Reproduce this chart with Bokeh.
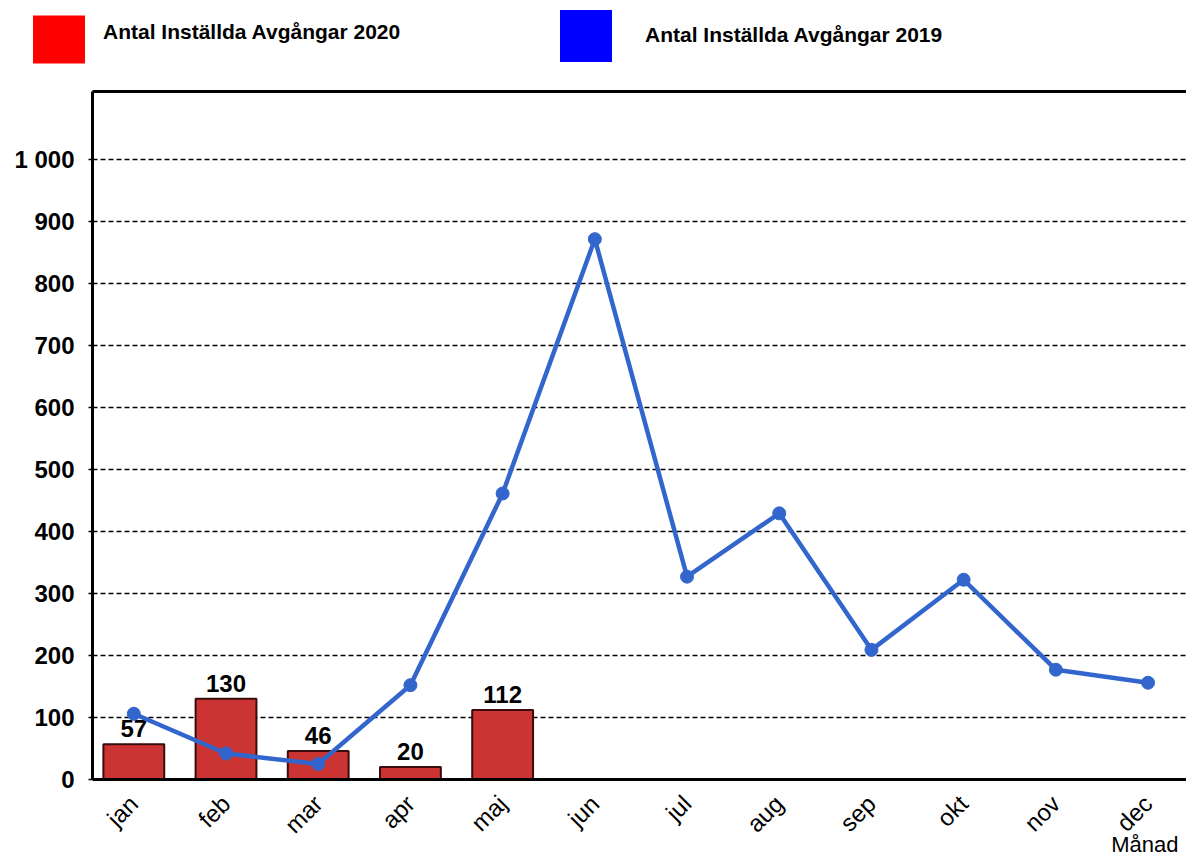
import math
from bokeh.plotting import figure
from bokeh.layouts import column, row
from bokeh.models import (ColumnDataSource, FixedTicker, Legend, LegendItem,
                          LinearAxis, Range1d, Grid, Label)
from bokeh.core.properties import value
from bokeh.embed import file_html
from bokeh.resources import INLINE

# ---- data ----
months = ["jan", "feb", "mar", "apr", "maj", "jun", "jul", "aug", "sep", "okt", "nov", "dec"]
cancelled_2020 = [57, 130, 46, 20, 112]
cancelled_2019 = [106, 42, 25, 152, 461, 871, 327, 429, 209, 322, 177, 156]
y_ticks = [0, 100, 200, 300, 400, 500, 600, 700, 800, 900, 1000]
y_tick_labels = ["0", "100", "200", "300", "400", "500", "600", "700", "800", "900", "1 000"]
legend_2020 = "Antal Inställda Avgångar 2020"
legend_2019 = "Antal Inställda Avgångar 2019"
x_axis_title = "Månad"

FONT = "Liberation Sans"
W = 1186
LEG_H = 70
TITLE_H = 34

src20 = ColumnDataSource(dict(
    x=list(range(len(cancelled_2020))),
    top=cancelled_2020,
    lbl=[str(v) for v in cancelled_2020],
))
src19 = ColumnDataSource(dict(x=list(range(len(cancelled_2019))), y=cancelled_2019))

# ---------------- main chart ----------------
p = figure(width=W, height=856 - LEG_H, output_backend="svg", toolbar_location=None,
           x_range=Range1d(-0.448, 11.417), y_range=Range1d(0, 1109),
           min_border_left=92, min_border_right=0, min_border_top=91 - LEG_H,
           min_border_bottom=77, x_axis_type=None, y_axis_type=None)
p.outline_line_color = None
p.background_fill_color = "white"
p.border_fill_color = "white"
p.xgrid.visible = False
p.ygrid.visible = False

g = Grid(dimension=1, ticker=FixedTicker(ticks=y_ticks[1:]))
g.grid_line_color = "black"
g.grid_line_width = 1.5
g.grid_line_dash = "5 3"
p.add_layout(g, "center")

# bars 2020
p.vbar(x="x", top="top", width=0.66, source=src20, fill_color="#CC3333",
       line_color="#3a0d0d", line_width=2)
p.text(x="x", y="top", text="lbl", source=src20, text_align="center",
       text_baseline="bottom", y_offset=-7, text_font=value(FONT),
       text_font_size="24px", text_font_style="bold", text_color="black")

# line 2019
p.line(x="x", y="y", source=src19, line_color="#3366CC", line_width=4.5)
p.scatter(x="x", y="y", source=src19, size=13, fill_color="#3366CC", line_color="#3366CC")

# axes
yaxis = LinearAxis(ticker=FixedTicker(ticks=y_ticks),
                   major_label_overrides={t: l for t, l in zip(y_ticks, y_tick_labels)})
yaxis.axis_line_width = 3
yaxis.axis_line_color = "black"
yaxis.major_tick_out = 4
yaxis.major_tick_in = 0
yaxis.major_tick_line_width = 1.5
yaxis.minor_tick_out = 0
yaxis.minor_tick_in = 0
yaxis.major_label_standoff = 14
yaxis.major_label_text_font = FONT
yaxis.major_label_text_font_size = "24px"
yaxis.major_label_text_font_style = "bold"
yaxis.major_label_text_color = "black"
p.add_layout(yaxis, "left")

xaxis = LinearAxis(ticker=FixedTicker(ticks=list(range(len(months)))),
                   major_label_overrides={i: m for i, m in enumerate(months)})
xaxis.axis_line_width = 3
xaxis.axis_line_color = "black"
xaxis.major_tick_out = 0
xaxis.major_tick_in = 0
xaxis.minor_tick_out = 0
xaxis.minor_tick_in = 0
xaxis.major_label_orientation = math.pi / 4
xaxis.major_label_standoff = 20
xaxis.major_label_text_font = FONT
xaxis.major_label_text_font_size = "24px"
xaxis.major_label_text_color = "black"
p.add_layout(xaxis, "below")

topaxis = LinearAxis(ticker=FixedTicker(ticks=[]))
topaxis.axis_line_width = 3
topaxis.axis_line_color = "black"
topaxis.major_tick_out = 0
topaxis.minor_tick_out = 0
topaxis.major_label_text_font_size = "0px"
p.add_layout(topaxis, "above")

# ---------------- legend strip ----------------
lf = figure(width=W, height=LEG_H, output_backend="svg", toolbar_location=None,
            x_range=Range1d(0, 1), y_range=Range1d(0, 1),
            min_border_left=0, min_border_right=0, min_border_top=0, min_border_bottom=0,
            x_axis_type=None, y_axis_type=None)
lf.outline_line_color = None
lf.xgrid.visible = False
lf.ygrid.visible = False
lf.background_fill_color = "white"
lf.border_fill_color = "white"

# invisible swatch renderers (outside the visible range), used only for legend glyphs
r_red = lf.vbar(x=[5], top=[0], width=0.5, fill_color="#FF0000", line_color=None)
r_blue = lf.vbar(x=[5], top=[0], width=0.5, fill_color="#0000FF", line_color=None)
r_none = lf.vbar(x=[5], top=[0], width=0.5, fill_alpha=0, line_color=None)


def make_legend(label, rend, loc, standoff, gw, gh, lh):
    lg = Legend(items=[LegendItem(label=label, renderers=[rend])], location=loc)
    lg.glyph_width = gw
    lg.glyph_height = gh
    lg.label_height = lh
    lg.label_standoff = standoff
    lg.padding = 0
    lg.margin = 0
    lg.spacing = 0
    lg.border_line_color = None
    lg.background_fill_alpha = 0
    lg.label_text_font = FONT
    lg.label_text_font_size = "21px"
    lg.label_text_font_style = "bold"
    lg.label_text_color = "black"
    return lg


# 2020: swatch and text placed separately
lf.add_layout(make_legend(" ", r_red, (26, 1), 0, 65, 60, 60), "center")
lf.add_layout(make_legend(legend_2020, r_none, (102, 26.5), 0, 1, 20, 20), "center")
# 2019
lf.add_layout(make_legend(legend_2019, r_blue, (553, 2.5), 27, 65, 65, 65), "center")

# ---------------- axis title strip (overlaps the chart's bottom border) ----------------
tf = figure(width=W, height=TITLE_H, output_backend="svg", toolbar_location=None,
            x_range=Range1d(0, W), y_range=Range1d(0, TITLE_H),
            min_border_left=0, min_border_right=0, min_border_top=0, min_border_bottom=0,
            x_axis_type=None, y_axis_type=None)
tf.outline_line_color = None
tf.xgrid.visible = False
tf.ygrid.visible = False
tf.background_fill_alpha = 0
tf.border_fill_alpha = 0
tf.add_layout(Label(x=W - 8, y=12, text=x_axis_title, text_align="right",
                    text_baseline="alphabetic", text_font=FONT, text_font_size="22px",
                    text_color="black"))

layout = column(row(lf), p, row(tf, margin=(-TITLE_H, 0, 0, 0)), spacing=0)
open("out.html", "w").write(file_html(layout, INLINE))
